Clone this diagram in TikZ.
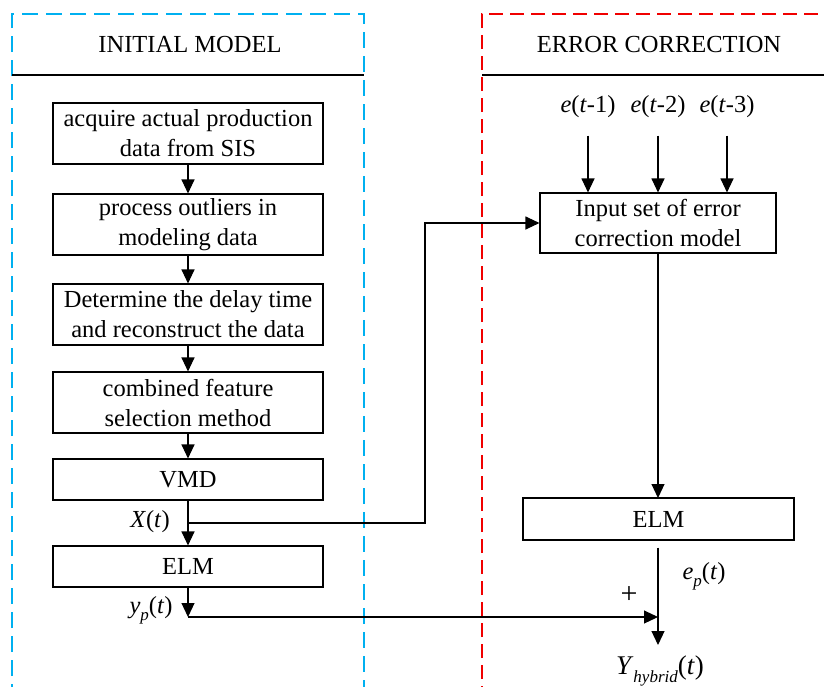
\documentclass[tikz,border=0pt]{standalone}
\usepackage{fontspec}
\setmainfont{Liberation Serif}
\usetikzlibrary{arrows.meta}
\newcommand{\subsc}[1]{\raisebox{-0.28em}{\fontsize{17}{17}\selectfont\textit{#1}}}
\begin{document}
\begin{tikzpicture}[x=1pt,y=-1pt,
  every node/.style={font=\fontsize{24.5}{30}\selectfont},
  stepbox/.style={draw,line width=1.1pt,align=center,inner sep=0pt},
  arr/.style={line width=1.1pt,-{Triangle[width=13pt,length=14pt]}},
  conn/.style={line width=1.1pt},
  bluedash/.style={draw={rgb,255:red,0;green,176;blue,240},line width=2pt,dash pattern=on 16pt off 8pt},
  reddash/.style={draw={rgb,255:red,240;green,0;blue,0},line width=2pt,dash pattern=on 14pt off 7pt}]
\useasboundingbox (0,0) rectangle (824,686);
% frames
\draw[bluedash] (12,700) -- (12,14) -- (364,14) -- (364,700);
\draw[reddash] (482,700) -- (482,14) -- (830,14);
\draw[line width=1.2pt] (12,75) -- (364,75);
\draw[line width=1.2pt] (482,75) -- (824,75);
\node (h1) at (190,45) {INITIAL MODEL};
\node (h2) at (659,45) {ERROR CORRECTION};
% left column
\node[stepbox,minimum width=270pt,minimum height=61pt] (b1) at (188,133.5) {acquire actual production\\data from SIS};
\node[stepbox,minimum width=270pt,minimum height=61pt] (b2) at (188,224.5) {process outliers in\\modeling data};
\node[stepbox,minimum width=270pt,minimum height=61pt] (b3) at (188,314.5) {Determine the delay time\\and reconstruct the data};
\node[stepbox,minimum width=270pt,minimum height=61pt] (b4) at (188,402.5) {combined feature\\selection method};
\node[stepbox,minimum width=270pt,minimum height=41pt] (vmd) at (188,479.5) {VMD};
\node[stepbox,minimum width=270pt,minimum height=41pt] (elm1) at (188,566.5) {ELM};
\draw[arr] (b1) -- (b2);
\draw[arr] (b2) -- (b3);
\draw[arr] (b3) -- (b4);
\draw[arr] (b4) -- (vmd);
\draw[arr] (vmd) -- (elm1);
\coordinate (xb) at (188,523);
\node (xl) at (150,522) {\textit{X}(\textit{t})};
% right column
\node[stepbox,minimum width=236pt,minimum height=60pt] (inp) at (658,223) {Input set of error\\correction model};
\node[stepbox,minimum width=271pt,minimum height=42pt] (elm2) at (658.5,519) {ELM};
\node (e1) at (588,107) {\textit{e}(\textit{t}-1)};
\node (e2) at (658,107) {\textit{e}(\textit{t}-2)};
\node (e3) at (727,107) {\textit{e}(\textit{t}-3)};
\draw[arr] (e1.south) ++(0,14) -- (e1.south |- inp.north);
\draw[arr] (e2.south) ++(0,14) -- (e2.south |- inp.north);
\draw[arr] (e3.south) ++(0,14) -- (e3.south |- inp.north);
\draw[arr] (inp.south -| 658,0) -- (658,498);
\draw[arr] (xb) -- (425,523) -- (425,223) -- (inp.west);
% outputs
\coordinate (yb) at (188,617);
\coordinate (sum) at (658,617);
\coordinate (yend) at (658,645);
\draw[arr] (elm1.south) -- (yb);
\draw[arr] (yb) -- (sum);
\draw[arr] (elm2.south -| 658,0) ++(0,7) -- (yend);
\node (yl) at (151,610) {\textit{y}\subsc{p}(\textit{t})};
\node (epl) at (704,576) {\textit{e}\subsc{p}(\textit{t})};
\node (plus) at (629,595) {\fontsize{30}{30}\selectfont +};
\node (yh) at (660,671) {\fontsize{27}{30}\selectfont\textit{Y}\subsc{hybrid}(\textit{t})};
\end{tikzpicture}
\end{document}
